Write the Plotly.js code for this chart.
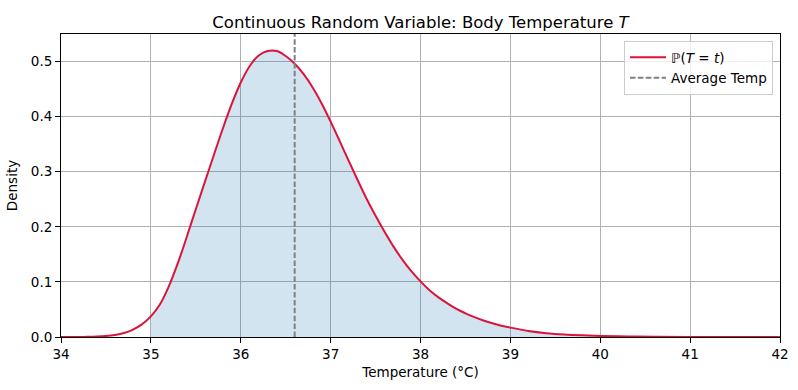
<!DOCTYPE html>
<html>
<head>
<meta charset="utf-8">
<script src="https://cdn.plot.ly/plotly-3.0.1.min.js"></script>
<style>html,body{margin:0;padding:0;background:#fff;}#chart{width:798px;height:390px;}</style>
</head>
<body>
<div id="chart"></div>
<script>
// Temperature values (°C) and density
var temps = [34.0, 34.1, 34.2, 34.3, 34.4, 34.5, 34.6, 34.7, 34.8, 34.9,
  35.0, 35.1, 35.2, 35.3, 35.4, 35.5, 35.6, 35.7, 35.8, 35.9,
  36.0, 36.1, 36.2, 36.3, 36.4, 36.5, 36.6, 36.7, 36.8, 36.9,
  37.0, 37.1, 37.2, 37.3, 37.4, 37.5, 37.6, 37.7, 37.8, 37.9,
  38.0, 38.1, 38.2, 38.3, 38.4, 38.5, 38.6, 38.7, 38.8, 38.9,
  39.0, 39.2, 39.4, 39.6, 39.8, 40.0, 40.3, 40.6, 41.0, 41.5, 42.0];
var density = [0.0000, 0.0000, 0.0001, 0.0003, 0.0008, 0.0018, 0.0038, 0.0072, 0.0135, 0.0230,
  0.0375, 0.0590, 0.0920, 0.1340, 0.1820, 0.2320, 0.2810, 0.3300, 0.3780, 0.4230,
  0.4620, 0.4920, 0.5110, 0.5190, 0.5190, 0.5100, 0.4960, 0.4770, 0.4530, 0.4240,
  0.3910, 0.3560, 0.3200, 0.2850, 0.2510, 0.2200, 0.1910, 0.1640, 0.1400, 0.1190,
  0.1010, 0.0850, 0.0720, 0.0610, 0.0510, 0.0430, 0.0360, 0.0300, 0.0250, 0.0205,
  0.0170, 0.0110, 0.0070, 0.0045, 0.0030, 0.0020, 0.0010, 0.0005, 0.0002, 0.0000, 0.0000];
var fillStart = 35.0;
var avgTemp = 36.6;
var xTicks = [34, 35, 36, 37, 38, 39, 40, 41, 42];
var yTicks = [0.0, 0.1, 0.2, 0.3, 0.4, 0.5];
var yTickLabels = ["0.0", "0.1", "0.2", "0.3", "0.4", "0.5"];

var fx = [], fy = [];
for (var i = 0; i < temps.length; i++) {
  if (temps[i] >= fillStart) { fx.push(temps[i]); fy.push(density[i]); }
}

var font = {family: "DejaVu Sans, sans-serif", size: 13.5, color: "#000"};

var traces = [
  {x: fx, y: fy, type: "scatter", mode: "lines", fill: "tozeroy",
   fillcolor: "rgba(31,119,180,0.2)", line: {width: 0, shape: "spline", smoothing: 1}, showlegend: false, hoverinfo: "skip"},
  {x: temps, y: density, type: "scatter", mode: "lines", name: "ℙ(<i>T</i> = <i>t</i>)",
   line: {color: "#dc143c", width: 2, shape: "spline", smoothing: 1}},
  {x: [avgTemp, avgTemp], y: [0, 0.55], type: "scatter", mode: "lines", name: "Average Temp",
   line: {color: "#808080", width: 2, dash: "5.5px,2.4px"}}
];

var axisCommon = {
  showline: true, mirror: true, linecolor: "#000", linewidth: 1,
  ticks: "outside", ticklen: 5, tickwidth: 1, tickcolor: "#000",
  showgrid: true, gridcolor: "#b0b0b0", gridwidth: 1, zeroline: false,
  tickfont: font
};

var layout = {
  width: 798, height: 390,
  margin: {l: 61, r: 18, t: 34, b: 53},
  paper_bgcolor: "#fff", plot_bgcolor: "#fff",
  font: font,
  title: {text: "Continuous Random Variable: Body Temperature <i>T</i>", font: {family: "DejaVu Sans, sans-serif", size: 16.5, color: "#000"},
    x: 0.5, xref: "paper", xanchor: "center", y: 1, yref: "paper", yanchor: "bottom", pad: {b: 6}},
  xaxis: Object.assign({}, axisCommon, {range: [34, 42], tickvals: xTicks, ticktext: xTicks.map(String),
    title: {text: "Temperature (°C)", font: font, standoff: 6}}),
  yaxis: Object.assign({}, axisCommon, {range: [0, 0.55], tickvals: yTicks, ticktext: yTickLabels,
    title: {text: "Density", font: font, standoff: 10}}),
  legend: {x: 1 - 7/719, xanchor: "right", y: 1 - 7/303, yanchor: "top",
    bgcolor: "rgba(255,255,255,0.8)", bordercolor: "#cccccc", borderwidth: 1,
    font: font, tracegroupgap: 0, itemwidth: 36},
  showlegend: true
};

Plotly.newPlot("chart", traces, layout, {displayModeBar: false, staticPlot: true});
</script>
</body>
</html>
